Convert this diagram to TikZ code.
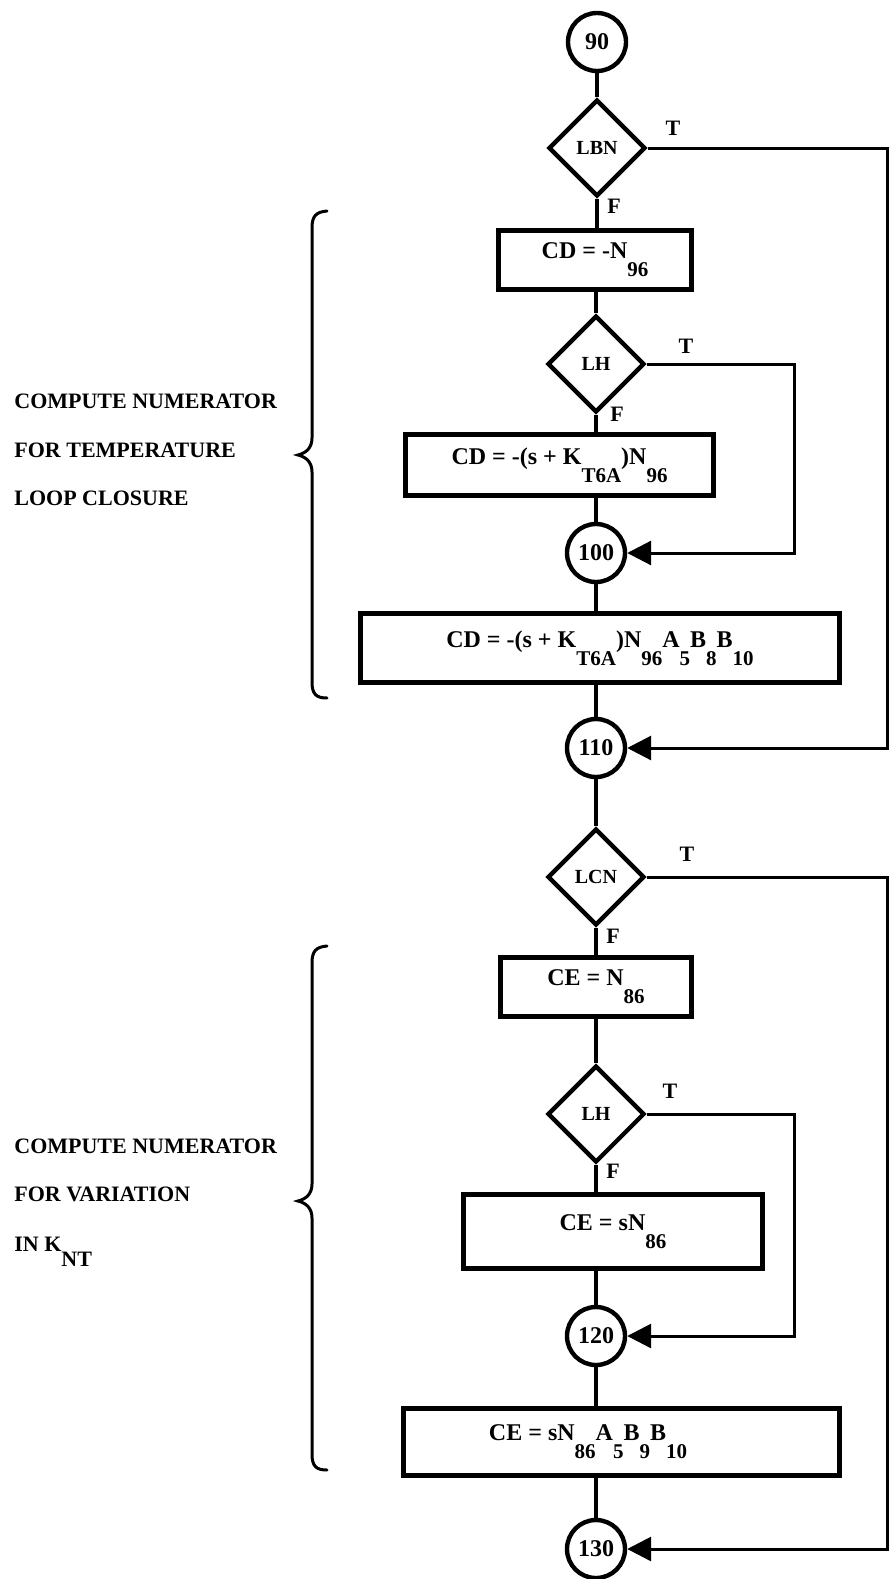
\documentclass[tikz,border=0pt]{standalone}
\usepackage{fontspec}
\setmainfont{Liberation Serif}
\usetikzlibrary{shapes.geometric,arrows.meta}
\newcommand{\dn}[1]{\raisebox{-0.75em}{\fontsize{10.5}{12}\selectfont #1}}
\begin{document}
\begin{tikzpicture}[x=0.5pt,y=-0.5pt,
  proc/.style={draw, line width=2.4pt, rectangle, inner sep=0pt, font=\bfseries\fontsize{12}{14}\selectfont},
  ptext/.style={inner sep=0pt, font=\bfseries\fontsize{12}{14}\selectfont},
  dec/.style={draw, diamond, line width=2.2pt, inner sep=0pt, minimum width=48.5pt, minimum height=48.5pt, font=\bfseries\fontsize{10}{12}\selectfont},
  conn/.style={draw, circle, line width=2.2pt, minimum size=29pt, inner sep=0pt, font=\bfseries\fontsize{12}{14}\selectfont},
  flow/.style={line width=1.8pt},
  loopline/.style={line width=1.5pt, -{Triangle[length=12pt,width=12pt]}},
  tf/.style={inner sep=0pt, font=\bfseries\fontsize{11}{13}\selectfont},
  side/.style={anchor=base west, inner sep=0pt, font=\bfseries\fontsize{11}{13}\selectfont},
  bracket/.style={line width=1.5pt, line cap=round}
]
\useasboundingbox (0,0) rectangle (889,1579);
\fill[white] (0,0) rectangle (889,1579);

% right-hand rails
\coordinate (rx) at (887,0);
\coordinate (ix) at (794,0);

% upper part
\node[conn] (c90) at (597,42) {90};
\node[dec] (dLBN) at (597,148) {LBN};
\node[proc, minimum width=96.6pt, minimum height=29.6pt] (b1) at (595,260) {CD = -N\dn{96}};
\node[dec] (dLH1) at (596,364) {LH};
\node[proc, minimum width=154.1pt, minimum height=30.6pt] (b2) at (559.5,465) {CD = -(s + K\dn{T6A})N\dn{96}};
\node[conn] (c100) at (596,553) {100};
\node[proc, minimum width=239.6pt, minimum height=34.6pt] (b3) at (600,648) {CD = -(s + K\dn{T6A})N\dn{96}A\dn{5}B\dn{8}B\dn{10}};
\node[conn] (c110) at (596,748) {110};

% lower part
\node[dec] (dLCN) at (596,877) {LCN};
\node[proc, minimum width=95.6pt, minimum height=29.6pt] (b4) at (596,987) {CE = N\dn{86}};
\node[dec] (dLH2) at (596,1114) {LH};
\node[proc, minimum width=149.6pt, minimum height=37.1pt] (b5) at (613,1231.5) {CE = sN\dn{86}};
\node[conn] (c120) at (596,1336) {120};
\node[proc, minimum width=218.1pt, minimum height=33.6pt] (b6) at (621.5,1442) {};
\node[ptext] (b6t) at (588,1442) {CE = sN\dn{86}A\dn{5}B\dn{9}B\dn{10}};
\node[conn] (c130) at (596,1549) {130};

% T / F labels
\node[tf] (t1) at (673,128) {T};
\node[tf] (f1) at (614,206) {F};
\node[tf] (t2) at (686,346) {T};
\node[tf] (f2) at (617,414) {F};
\node[tf] (t3) at (687,854) {T};
\node[tf] (f3) at (613,936) {F};
\node[tf] (t4) at (670,1091) {T};
\node[tf] (f4) at (613,1171) {F};

% main flow
\draw[flow] (c90) -- (dLBN);
\draw[flow] (dLBN.south) -- (dLBN.south |- b1.north);
\draw[flow] (b1.south -| dLH1.north) -- (dLH1.north);
\draw[flow] (dLH1.south) -- (dLH1.south |- b2.north);
\draw[flow] (b2.south -| c100.north) -- (c100.north);
\draw[flow] (c100.south) -- (c100.south |- b3.north);
\draw[flow] (b3.south -| c110.north) -- (c110.north);
\draw[flow] (c110) -- (dLCN);
\draw[flow] (dLCN.south) -- (dLCN.south |- b4.north);
\draw[flow] (b4.south -| dLH2.north) -- (dLH2.north);
\draw[flow] (dLH2.south) -- (dLH2.south |- b5.north);
\draw[flow] (b5.south -| c120.north) -- (c120.north);
\draw[flow] (c120.south) -- (c120.south |- b6.north);
\draw[flow] (b6.south -| c130.north) -- (c130.north);

% true branches
\draw[loopline] (dLBN.east) -- (dLBN.east -| rx) |- (c110.east);
\draw[loopline] (dLH1.east) -- (dLH1.east -| ix) |- (c100.east);
\draw[loopline] (dLCN.east) -- (dLCN.east -| rx) |- (c130.east);
\draw[loopline] (dLH2.east) -- (dLH2.east -| ix) |- (c120.east);

% braces
\draw[bracket] (327,211) .. controls (316,212) and (312,216) .. (312,228) -- (312,438)
  .. controls (312,448) and (306,453) .. (298,455)
  .. controls (306,457) and (312,462) .. (312,472) -- (312,682)
  .. controls (312,694) and (316,698) .. (327,698);
\draw[bracket] (327,946) .. controls (316,947) and (312,951) .. (312,963) -- (312,1184)
  .. controls (312,1194) and (306,1199) .. (298,1201)
  .. controls (306,1203) and (312,1208) .. (312,1218) -- (312,1454)
  .. controls (312,1466) and (316,1470) .. (327,1470);

% side texts
\node[side] (s1a) at (14,408) {COMPUTE NUMERATOR};
\node[side] (s1b) at (14,457) {FOR TEMPERATURE};
\node[side] (s1c) at (14,505) {LOOP CLOSURE};
\node[side] (s2a) at (14,1153) {COMPUTE NUMERATOR};
\node[side] (s2b) at (14,1201) {FOR VARIATION};
\node[side] (s2c) at (14,1251) {IN K\raisebox{-0.7em}{NT}};
\end{tikzpicture}
\end{document}
